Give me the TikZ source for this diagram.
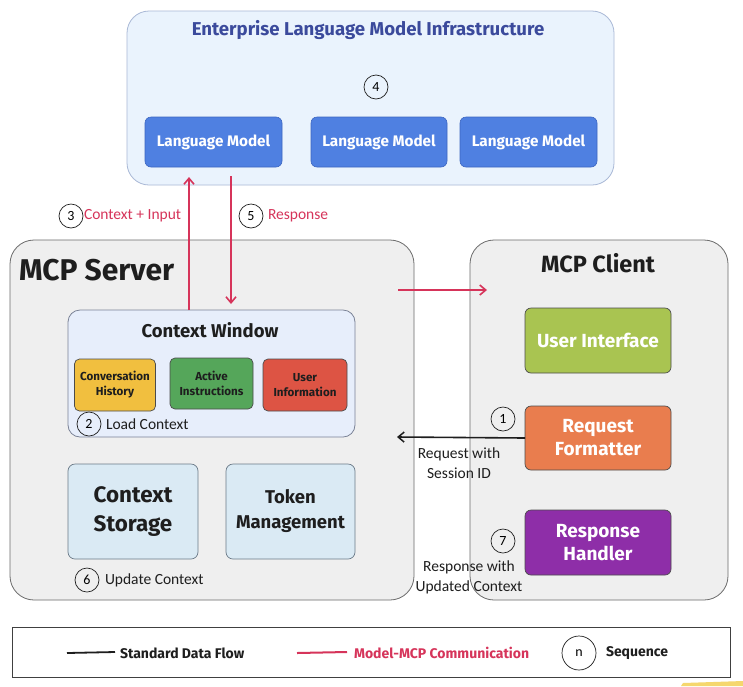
\documentclass[tikz,border=0pt]{standalone}
\usepackage{fontspec}
\setmainfont{Fira Sans}
\newfontfamily\hand{Carlito}
\usetikzlibrary{arrows.meta,calc}
\definecolor{topfill}{HTML}{EAF3FD}
\definecolor{topdraw}{HTML}{A9B8D6}
\definecolor{titleblue}{HTML}{3B4A9C}
\definecolor{lmfill}{HTML}{4F80E1}
\definecolor{lmdraw}{HTML}{3C66C0}
\definecolor{srvfill}{HTML}{EFEFEF}
\definecolor{srvdraw}{HTML}{6B6B6B}
\definecolor{cwfill}{HTML}{E7EEFB}
\definecolor{cwdraw}{HTML}{7A8296}
\definecolor{chfill}{HTML}{F1BF3F}
\definecolor{aifill}{HTML}{55A65A}
\definecolor{uifill}{HTML}{DD5444}
\definecolor{csfill}{HTML}{DAEAF4}
\definecolor{csdraw}{HTML}{6B7A88}
\definecolor{uigreen}{HTML}{A9C451}
\definecolor{rforange}{HTML}{E97D4E}
\definecolor{rhpurple}{HTML}{8E2EA8}
\definecolor{mred}{HTML}{D6345A}
\definecolor{ink}{HTML}{1E1E1E}
\definecolor{hl}{HTML}{F5D76E}
\tikzset{
  x=1pt,y=1pt,
  every node/.style={inner sep=0pt,outer sep=0pt},
  bigbox/.style={draw,line width=0.8pt,rounded corners=24pt},
  lmbox/.style={draw=lmdraw,fill=lmfill,line width=0.6pt,rounded corners=6pt,
     minimum height=50,text=white,font=\fontsize{15.3}{18}\selectfont\bfseries},
  subbox/.style={draw=ink!80,line width=0.7pt,rounded corners=5pt,minimum width=81,
     minimum height=52,align=center,text=ink,font=\fontsize{11.6}{15}\selectfont\bfseries},
  clbox/.style={draw=ink!80,line width=0.7pt,rounded corners=6pt,minimum width=146,
     minimum height=65,align=center,text=white,font=\fontsize{19}{23}\selectfont\bfseries},
  stbox/.style={draw=csdraw,fill=csfill,line width=0.7pt,rounded corners=7pt,minimum width=130,
     minimum height=95,align=center,text=ink},
  seq/.style={circle,draw=ink,line width=0.7pt,minimum size=24,font=\hand\fontsize{14}{14}\selectfont},
  ann/.style={font=\hand\fontsize{15.5}{20}\selectfont,text=ink,align=center},
  redarrow/.style={draw=mred,line width=1.8pt,-{Straight Barb[length=6pt,width=10pt,line width=1.6pt]}},
  blackarrow/.style={draw=ink,line width=1.6pt,-{Straight Barb[length=6pt,width=10pt,line width=1.5pt]}},
  legtext/.style={anchor=west,font=\fontsize{14}{16}\selectfont\bfseries},
}
\begin{document}
\begin{tikzpicture}
\useasboundingbox (0,0) rectangle (743,-686);
\fill[white] (0,0) rectangle (743,-686);

% top infrastructure
\node[bigbox,draw=topdraw,fill=topfill,rounded corners=22pt,minimum width=487,minimum height=174] (infra) at (370.5,-98) {};
\node[text=titleblue,font=\fontsize{18.6}{22}\selectfont\bfseries] (infratitle) at (368,-30) {Enterprise Language Model Infrastructure};
\node[seq] (s4) at (376,-87) {4};
\node[lmbox,minimum width=137] (lm1) at (213.5,-142) {Language Model};
\node[lmbox,minimum width=136] (lm2) at (379,-142) {Language Model};
\node[lmbox,minimum width=137] (lm3) at (528.5,-142) {Language Model};

% MCP server
\node[bigbox,draw=srvdraw,fill=srvfill,minimum width=404,minimum height=360] (server) at (212,-420) {};
\node[anchor=west,text=ink,font=\fontsize{30}{34}\selectfont\bfseries] (srvtitle) at (19,-270) {MCP Server};

\node[draw=cwdraw,fill=cwfill,line width=0.8pt,rounded corners=12pt,minimum width=287,minimum height=127] (cw) at (211.5,-373.5) {};
\node[text=ink,font=\fontsize{18.5}{22}\selectfont\bfseries] (cwtitle) at (210,-330) {Context Window};
\node[subbox,fill=chfill] (ch) at (115,-385) {Conversation\\History};
\node[subbox,fill=aifill,minimum width=83,minimum height=51] (ai) at (211.5,-383.5) {Active\\Instructions};
\node[subbox,fill=uifill,minimum width=84] (ui) at (305,-385) {User\\Information};
\node[seq] (s2) at (89,-424) {2};
\node[ann,anchor=west] (l2) at (106,-424) {Load Context};

\node[stbox,font=\fontsize{22.4}{29}\selectfont\bfseries] (cs) at (133,-511.5) {Context\\Storage};
\node[stbox,minimum width=129,font=\fontsize{18.5}{25}\selectfont\bfseries] (tm) at (290.5,-511.5) {Token\\Management};
\node[seq] (s6) at (87,-580) {6};
\node[ann,anchor=west] (l6) at (105,-580) {Update Context};

% MCP client
\node[bigbox,draw=srvdraw,fill=srvfill,minimum width=258,minimum height=360] (client) at (599,-420) {};
\node[text=ink,font=\fontsize{23.5}{26}\selectfont\bfseries] (cltitle) at (598,-263) {MCP Client};
\node[clbox,fill=uigreen] (uint) at (598,-340.5) {User Interface};
\node[clbox,fill=rforange,minimum height=64] (rf) at (598,-438) {Request\\Formatter};
\node[clbox,fill=rhpurple] (rh) at (598,-542.5) {Response\\Handler};
\node[seq] (s1) at (503,-419) {1};
\node[seq] (s7) at (503,-541) {7};
\node[ann] (lreq) at (459,-463) {Request with\\Session ID};
\node[ann] (lresp) at (469,-577) {Response with\\Updated Context};

% red connectors
\draw[redarrow] ($(cw.north)+(-22.5,0)$) -- ($(lm1.south)+(-24.5,-10)$);
\draw[redarrow] ($(lm1.south)+(17.5,-9)$) -- ($(cw.north)+(19.5,6)$);
\draw[redarrow] ($(server.north east)+(-16,-50)$) -- ($(client.north west)+(17,-50)$);
\node[seq] (s3) at (71,-216) {3};
\node[anchor=west,text=mred,font=\hand\fontsize{15.5}{16}\selectfont] (l3) at (84,-216) {Context + Input};
\node[seq] (s5) at (251,-216) {5};
\node[anchor=west,text=mred,font=\hand\fontsize{15.5}{16}\selectfont] (l5) at (268,-216) {Response};

% black connector
\draw[blackarrow] (rf.west) -- ($(server.east |- rf.west)+(-17,1)$);

% legend
\node[draw=ink!85,line width=1pt,minimum width=718,minimum height=50] (legend) at (371,-652) {};
\coordinate (lg1a) at (67,-653);
\coordinate (lg1b) at (115,-652);
\draw[ink,line width=1.8pt] (lg1a) -- (lg1b);
\node[legtext,text=ink] (lt1) at (120,-653) {Standard Data Flow};
\coordinate (lg2a) at (297,-653);
\coordinate (lg2b) at (347,-652);
\draw[mred,line width=2pt] (lg2a) -- (lg2b);
\node[legtext,text=mred] (lt2) at (354,-653) {Model-MCP Communication};
\node[seq,minimum size=34] (sn) at (579,-653) {n};
\node[legtext,text=ink] (lt3) at (606,-653) {Sequence};

% highlight mark bottom right
\fill[hl] (683,-683) -- (743,-681) -- (743,-686) -- (681,-686) -- cycle;
\end{tikzpicture}
\end{document}
